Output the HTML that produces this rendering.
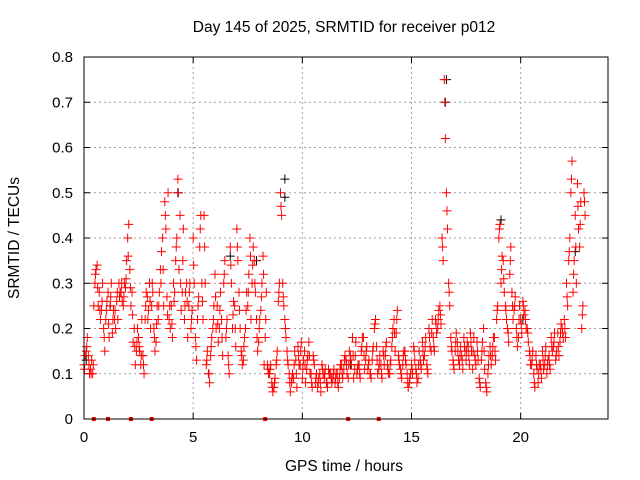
<!DOCTYPE html>
<html><head><meta charset="utf-8"><style>
html,body{margin:0;padding:0;background:#fff}
svg{display:block;font-family:"Liberation Sans",sans-serif}
</style></head><body>
<svg id="chart" width="640" height="480" viewBox="0 0 640 480">
<rect width="640" height="480" fill="#fff"/>
<text x="344" y="32" font-size="15.5" text-anchor="middle">Day 145 of 2025, SRMTID for receiver p012</text>
<text transform="translate(19,238) rotate(-90)" font-size="15.5" text-anchor="middle">SRMTID / TECUs</text>
<text x="344" y="471" font-size="15.5" text-anchor="middle">GPS time / hours</text>
<g id="grid"></g>
<g id="axes"></g>
<g id="marks"></g>
<rect x="84" y="57" width="524" height="362" fill="none" stroke="#000" stroke-width="1"/>
</svg>
<script>
const yTicks=[0,0.1,0.2,0.3,0.4,0.5,0.6,0.7,0.8];
const yTickLabels=["0","0.1","0.2","0.3","0.4","0.5","0.6","0.7","0.8"];
const xTicks=[0,5,10,15,20];
const xTickLabels=["0","5","10","15","20"];
const seriesAStart=0, seriesAStep=0.1;
const seriesA=[0.12,0.15,0.14,0.11,0.10,0.30,0.34,0.28,0.24,0.20,0.22,0.28,0.25,0.19,0.22,0.26,0.30,0.28,0.25,0.29,
0.40,0.33,0.28,0.20,0.15,0.18,0.12,0.14,0.22,0.27,0.30,0.25,0.20,0.17,0.22,0.33,0.40,0.48,0.27,0.22,
0.25,0.30,0.35,0.53,0.45,0.28,0.22,0.30,0.25,0.20,0.40,0.18,0.22,0.38,0.30,0.45,0.12,0.10,0.14,0.20,
0.32,0.25,0.20,0.22,0.30,0.18,0.14,0.38,0.20,0.25,0.42,0.28,0.15,0.13,0.20,0.25,0.40,0.30,0.35,0.22,
0.17,0.24,0.36,0.18,0.12,0.10,0.08,0.07,0.12,0.26,0.50,0.30,0.22,0.15,0.10,0.08,0.09,0.13,0.16,0.12,
0.09,0.15,0.11,0.17,0.10,0.14,0.08,0.07,0.10,0.12,0.09,0.08,0.11,0.10,0.09,0.08,0.10,0.09,0.12,0.11,
0.13,0.09,0.14,0.18,0.11,0.10,0.12,0.15,0.18,0.13,0.11,0.10,0.13,0.20,0.16,0.11,0.12,0.15,0.14,0.12,
0.10,0.16,0.22,0.19,0.14,0.11,0.12,0.15,0.10,0.08,0.12,0.16,0.11,0.09,0.13,0.17,0.14,0.12,0.20,0.15,
0.18,0.22,0.20,0.25,0.40,0.75,0.50,0.30,0.18,0.13,0.15,0.17,0.12,0.14,0.18,0.13,0.16,0.19,0.11,0.14,
0.17,0.09,0.13,0.20,0.08,0.10,0.16,0.14,0.18,0.22,0.40,0.30,0.35,0.25,0.20,0.32,0.28,0.24,0.20,0.18,
0.22,0.26,0.24,0.20,0.15,0.12,0.10,0.14,0.08,0.12,0.15,0.12,0.10,0.14,0.18,0.16,0.13,0.19,0.17,0.20,
0.22,0.30,0.35,0.50,0.28,0.45,0.52,0.38,0.20,0.50];
const seriesBStart=0.05, seriesBStep=0.1;
const seriesB=[0.14,0.18,0.10,0.13,0.25,0.33,0.25,0.22,0.30,0.15,0.26,0.18,0.30,0.24,0.20,0.22,0.28,0.26,0.30,0.35,
0.43,0.25,0.17,0.12,0.20,0.15,0.22,0.10,0.28,0.24,0.20,0.28,0.15,0.25,0.28,0.37,0.25,0.42,0.50,0.20,
0.18,0.28,0.40,0.33,0.24,0.42,0.28,0.18,0.30,0.24,0.30,0.13,0.27,0.45,0.22,0.30,0.15,0.08,0.18,0.25,
0.20,0.17,0.28,0.14,0.35,0.22,0.10,0.30,0.26,0.16,0.35,0.20,0.12,0.18,0.28,0.32,0.22,0.38,0.28,0.15,
0.22,0.30,0.12,0.28,0.10,0.12,0.06,0.09,0.15,0.30,0.45,0.25,0.18,0.12,0.06,0.10,0.15,0.07,0.12,0.17,
0.13,0.08,0.14,0.10,0.07,0.12,0.10,0.09,0.06,0.10,0.11,0.07,0.10,0.08,0.11,0.10,0.07,0.12,0.09,0.14,
0.10,0.15,0.12,0.09,0.17,0.12,0.09,0.18,0.11,0.16,0.13,0.09,0.16,0.22,0.10,0.14,0.09,0.12,0.17,0.10,
0.13,0.20,0.15,0.24,0.12,0.09,0.15,0.12,0.07,0.10,0.10,0.13,0.08,0.15,0.11,0.13,0.18,0.10,0.16,0.22,
0.15,0.19,0.24,0.21,0.35,0.62,0.42,0.25,0.15,0.11,0.19,0.13,0.16,0.11,0.15,0.17,0.12,0.15,0.18,0.12,
0.13,0.07,0.17,0.11,0.06,0.14,0.12,0.18,0.13,0.25,0.43,0.36,0.28,0.22,0.17,0.38,0.22,0.27,0.16,0.25,
0.19,0.23,0.20,0.17,0.12,0.15,0.07,0.11,0.12,0.09,0.11,0.16,0.13,0.11,0.15,0.19,0.15,0.14,0.21,0.18,
0.18,0.25,0.40,0.57,0.35,0.30,0.42,0.48,0.25,0.45];
const seriesCStart=0.025, seriesCStep=0.1;
const seriesC=[0.11,0.16,0.12,0.10,0.12,0.32,0.29,0.24,0.26,0.18,0.24,0.21,0.27,0.22,0.24,0.28,0.27,0.30,0.27,0.31,
0.36,0.29,0.23,0.16,0.17,0.16,0.14,0.12,0.25,0.22,0.26,0.30,0.18,0.21,0.25,0.30,0.33,0.45,0.23,0.25,
0.21,0.26,0.38,0.50,0.30,0.35,0.25,0.26,0.28,0.22,0.34,0.16,0.25,0.42,0.26,0.38,0.13,0.10,0.16,0.22,
0.27,0.21,0.24,0.18,0.32,0.20,0.12,0.34,0.23,0.20,0.38,0.24,0.14,0.16,0.24,0.28,0.36,0.34,0.30,0.18,
0.20,0.27,0.32,0.22,0.11,0.11,0.07,0.08,0.13,0.28,0.47,0.27,0.20,0.13,0.08,0.09,0.12,0.10,0.14,0.15,
0.11,0.12,0.13,0.14,0.08,0.13,0.09,0.08,0.08,0.11,0.10,0.08,0.10,0.09,0.10,0.09,0.08,0.11,0.10,0.13,
0.12,0.12,0.13,0.14,0.14,0.11,0.10,0.16,0.14,0.15,0.12,0.10,0.15,0.21,0.13,0.12,0.10,0.14,0.16,0.11,
0.12,0.18,0.19,0.22,0.13,0.10,0.14,0.13,0.08,0.09,0.11,0.15,0.10,0.12,0.12,0.15,0.16,0.11,0.18,0.19,
0.16,0.21,0.22,0.23,0.38,0.70,0.46,0.28,0.16,0.12,0.17,0.15,0.14,0.13,0.16,0.15,0.14,0.17,0.15,0.13,
0.15,0.08,0.15,0.15,0.07,0.12,0.14,0.16,0.15,0.24,0.42,0.33,0.31,0.24,0.19,0.35,0.25,0.25,0.18,0.22,
0.21,0.25,0.22,0.19,0.14,0.13,0.08,0.12,0.10,0.11,0.13,0.14,0.12,0.12,0.16,0.17,0.14,0.16,0.19,0.19,
0.20,0.27,0.37,0.53,0.32,0.38,0.47,0.43,0.23,0.48];
const blackTimes=[0.1,3.0,4.3,7.9,9.2,9.2,16.55,16.6,19.1,22.5,1.2,6.7,12.2,20.1];
const blackValues=[0.13,0.30,0.50,0.35,0.53,0.49,0.70,0.75,0.44,0.37,0.25,0.36,0.12,0.22];
const zeroTimes=[0.45,1.1,2.15,3.1,8.3,12.1,13.5];
const X0=84,X1=608,Y0=419,Y1=57,XMAX=24,YMAX=0.8;
const xs=t=>X0+(X1-X0)*t/XMAX;
const ys=v=>Y0-(Y0-Y1)*v/YMAX;
const NS="http://www.w3.org/2000/svg";
function mk(tag,attrs,parent){const e=document.createElementNS(NS,tag);for(const k in attrs)e.setAttribute(k,attrs[k]);parent.appendChild(e);return e;}
const grid=document.getElementById('grid'),axes=document.getElementById('axes'),marks=document.getElementById('marks');
yTicks.forEach((v,i)=>{const y=ys(v);
 if(i>0&&i<yTicks.length-1){const g=mk('line',{x1:X0,x2:X1,y1:y,y2:y,stroke:'#a0a0a0','stroke-dasharray':'2,3'},grid);
 
 }
 mk('line',{x1:X0,x2:X0+6,y1:y,y2:y,stroke:'#000'},axes);
 mk('line',{x1:X1,x2:X1-6,y1:y,y2:y,stroke:'#000'},axes);
 const t=mk('text',{x:X0-11,y:y+5,'font-size':15,'text-anchor':'end'},axes);t.textContent=yTickLabels[i];
 
 
});
xTicks.forEach((v,i)=>{const x=xs(v);
 if(i>0){const g=mk('line',{x1:x,x2:x,y1:Y0,y2:Y1,stroke:'#a0a0a0','stroke-dasharray':'2,3'},grid);
 
 }
 mk('line',{x1:x,x2:x,y1:Y0,y2:Y0-6,stroke:'#000'},axes);
 mk('line',{x1:x,x2:x,y1:Y1,y2:Y1+6,stroke:'#000'},axes);
 const t=mk('text',{x:x,y:Y0+23,'font-size':15,'text-anchor':'middle'},axes);t.textContent=xTickLabels[i];
 
 
});
function plus(t,v,col,name){const x=xs(t),y=ys(v);
 const p=mk('path',{d:`M${x-4.5} ${y}H${x+4.5}M${x} ${y-4.5}V${y+4.5}`,stroke:col,'stroke-width':1,fill:'none'},marks);
 
 }
blackValues.forEach((v,i)=>plus(blackTimes[i],v,'#000','black-point'));
seriesA.forEach((v,i)=>plus(seriesAStart+i*seriesAStep,v,'#ff0000','red-point'));
seriesB.forEach((v,i)=>plus(seriesBStart+i*seriesBStep,v,'#ff0000','red-point'));
seriesC.forEach((v,i)=>plus(seriesCStart+i*seriesCStep,v,'#ff0000','red-point'));
zeroTimes.forEach(t=>{const r=mk('rect',{x:xs(t)-2,y:Y0-2,width:4,height:4,fill:'#ff0000'},marks);
 
 });
</script>
</body></html>
